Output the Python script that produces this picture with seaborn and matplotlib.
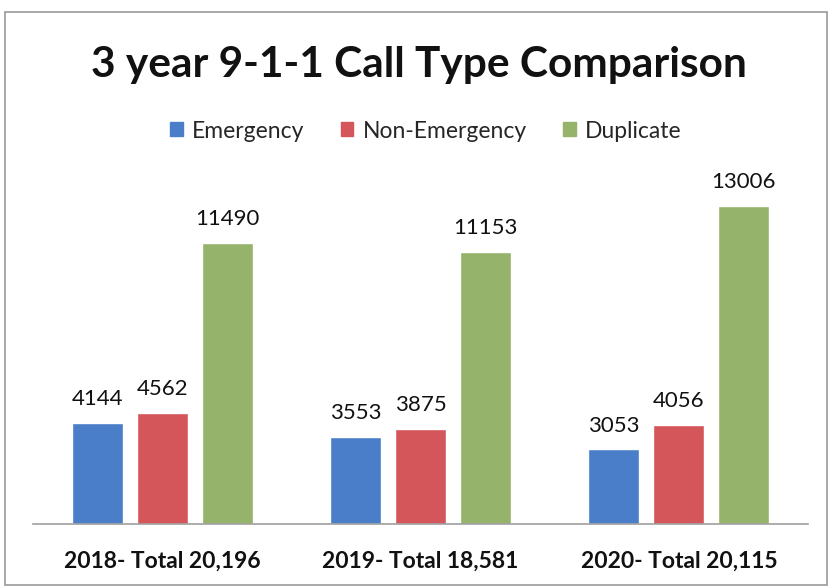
import matplotlib
matplotlib.use("Agg")
import matplotlib.pyplot as plt
import seaborn as sns
import pandas as pd
from matplotlib.patches import Rectangle

years = ["2018- Total 20,196", "2019- Total 18,581", "2020- Total 20,115"]
call_types = ["Emergency", "Non-Emergency", "Duplicate"]
emergency = [4144, 3553, 3053]
non_emergency = [4562, 3875, 4056]
duplicate = [11490, 11153, 13006]
colors = ["#4a7ec9", "#d4555a", "#95b36a"]

df = pd.DataFrame({
    "year": years * 3,
    "type": [call_types[0]] * 3 + [call_types[1]] * 3 + [call_types[2]] * 3,
    "calls": emergency + non_emergency + duplicate,
})

sns.set_theme(style="white")
plt.rcParams["font.family"] = ["Lato", "DejaVu Sans"]

fig = plt.figure(figsize=(8.3, 5.87), dpi=100)
ax = fig.add_axes([33 / 830, 1 - 524 / 587, 775 / 830, 342 / 587])

sns.barplot(data=df, x="year", y="calls", hue="type", hue_order=call_types,
            palette=colors, saturation=1, ax=ax, width=0.756, gap=0.0, legend=False)

# narrow the bars so each group shows small gaps between them
for patch in ax.patches:
    w = patch.get_width()
    cx = patch.get_x() + w / 2
    patch.set_width(w * 0.785)
    patch.set_x(cx - w * 0.785 / 2)

for cont in ax.containers:
    ax.bar_label(cont, padding=10, fontsize=16, color="#111111")

ax.set_ylim(0, 14000)
ax.set_xlim(-0.5, 2.5)
ax.set_xlabel("")
ax.set_ylabel("")
ax.set_yticks([])
ax.tick_params(axis="x", length=0, pad=19)
for lbl in ax.get_xticklabels():
    lbl.set_fontweight("bold")
    lbl.set_fontsize(16.5)
    lbl.set_color("#111111")
for side in ["top", "right", "left"]:
    ax.spines[side].set_visible(False)
ax.spines["bottom"].set_color("#a0a0a0")
ax.spines["bottom"].set_linewidth(1.2)

fig.text(0.505, 1 - 65 / 587, "3 year 9-1-1 Call Type Comparison", ha="center", va="center",
         fontsize=30.5, fontweight="bold", color="#111111")

handles = [Rectangle((0, 0), 1, 1, color=c) for c in colors]
fig.legend(handles, call_types, loc="center", bbox_to_anchor=(0.513, 1 - 131 / 587),
           ncol=3, frameon=False, fontsize=16.5, handlelength=0.55, handleheight=0.55,
           handletextpad=0.4, columnspacing=1.6)

# outer frame of the chart area
fig.add_artist(Rectangle((5 / 830, 2 / 587), 822 / 830, 573 / 587, transform=fig.transFigure,
                         fill=False, edgecolor="#9a9a9a", linewidth=1.2))

fig.savefig("out.png", dpi=100)
